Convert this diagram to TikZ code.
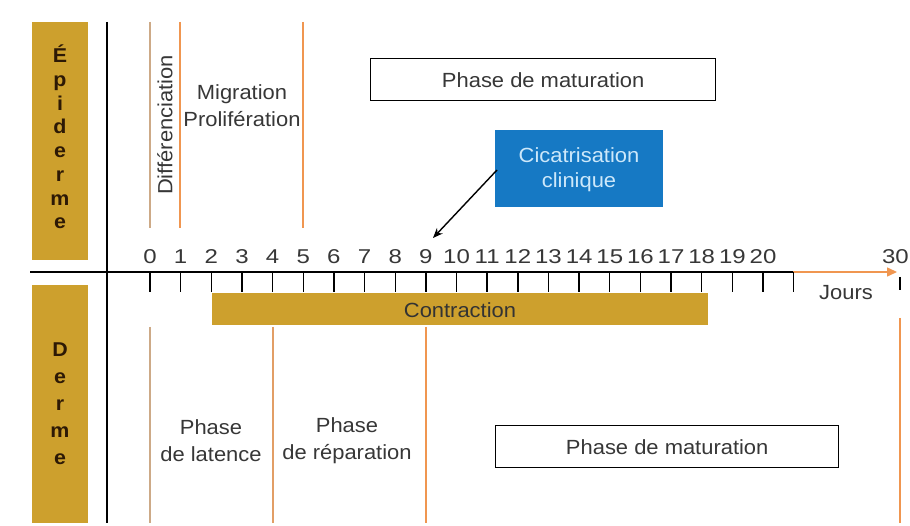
\documentclass[tikz,border=0pt]{standalone}
\usepackage{fontspec}
\setmainfont[FakeStretch=1.07]{Liberation Sans}
\newfontfamily\numfont[FakeStretch=1.2]{Liberation Sans}
\usetikzlibrary{arrows.meta}
\definecolor{gold}{RGB}{205,160,45}
\definecolor{orng}{RGB}{240,150,80}
\definecolor{tanc}{RGB}{205,170,135}
\definecolor{blu}{RGB}{22,121,196}
\definecolor{txt}{RGB}{55,55,55}
\definecolor{lettr}{RGB}{45,25,5}
\definecolor{cictxt}{RGB}{205,232,250}
\tikzset{
  lbl/.style={text=txt, font=\fontsize{20.5}{26}\selectfont, align=center, inner sep=0pt},
  numlbl/.style={text=txt, font=\numfont\fontsize{20}{22}\selectfont, inner sep=0pt},
  sidebox/.style={fill=gold, draw=none, minimum width=56pt, anchor=north west, inner sep=0pt},
  sideletters/.style={text=lettr, font=\bfseries\fontsize{20}{23.7}\selectfont, align=center, inner sep=0pt},
  phasebox/.style={draw=black, line width=1.4pt, fill=white, anchor=north west, inner sep=0pt, text=txt, font=\fontsize{20.5}{26}\selectfont},
  tickline/.style={black, line width=1.4pt},
  orline/.style={orng, line width=1.5pt},
  tanline/.style={tanc, line width=1.5pt}
}
\begin{document}
\begin{tikzpicture}[x=1pt,y=-1pt]
\useasboundingbox[fill=white] (0,0) rectangle (910,526);
% side boxes
\node[sidebox, minimum height=238pt] (epibox) at (32,22) {};
\node[sideletters] (epitxt) at (60,137) {É\\p\\i\\d\\e\\r\\m\\e};
\node[sidebox, minimum height=238pt] (derbox) at (32,285) {};
\node[sideletters, font=\bfseries\fontsize{20}{27}\selectfont] (dertxt) at (60,404) {D\\e\\r\\m\\e};
% vertical black line
\coordinate (vtop) at (107,22);
\coordinate (vbot) at (107,523);
\draw[black, line width=1.8pt] (vtop) -- (vbot);
% axis
\coordinate (axL) at (30,272);
\coordinate (axM) at (793,272);
\coordinate (axR) at (897,272);
\draw[black, line width=1.5pt] (axL) -- (axM);
\draw[orng, line width=1.5pt, -{Triangle[length=10pt,width=9pt]}] (axM) -- (axR);
\foreach \k in {0,...,21}{
  \draw[tickline] (150+30.65*\k,272) -- (150+30.65*\k,292);
}
\foreach \k in {0,...,20}{
  \node[numlbl] (n\k) at (150+30.65*\k,257) {\k};
}
\draw[tickline] (900,277) -- (900,290);
\node[numlbl, anchor=east] (n30) at (909,257) {30};
\node[lbl] (jours) at (846,293) {Jours};
% contraction
\node[fill=gold, minimum width=496pt, minimum height=32pt, anchor=north west, inner sep=0pt] (contr) at (212,293) {};
\node[lbl, text=black!80] (contrtxt) at (460,310) {Contraction};
% epiderme lines
\draw[tanline] (150,22) -- (150,228);
\draw[orline] (180,22) -- (180,228);
\draw[orline] (303,22) -- (303,228);
\node[lbl, rotate=90] (diff) at (165,125) {Différenciation};
\node[lbl, font=\fontsize{20.5}{27}\selectfont] (migr) at (242,106) {Migration\\Prolifération};
% top maturation box
\node[phasebox, minimum width=345pt, minimum height=42pt] (matTop) at (370,58) {Phase de maturation};
% cicatrisation
\node[fill=blu, minimum width=168pt, minimum height=77pt, anchor=north west, inner sep=0pt] (cic) at (495,130) {};
\node[lbl, text=cictxt, font=\fontsize{20.5}{25}\selectfont] (cictxt) at (579,170) {Cicatrisation\\clinique};
\coordinate (arrS) at (497,170);
\coordinate (arrE) at (433,238);
\draw[black, line width=1.4pt, -{Stealth[length=10pt,width=8pt]}] (arrS) -- (arrE);
% derme lines
\draw[tanline] (150,327) -- (150,523);
\draw[tanline, draw=orng!60!tanc] (273,327) -- (273,523);
\draw[orline] (426,327) -- (426,523);
\draw[orline] (900,318) -- (900,523);
\node[lbl, font=\fontsize{20.5}{27}\selectfont] (lat) at (211,441) {Phase\\de latence};
\node[lbl, font=\fontsize{20.5}{27}\selectfont] (rep) at (347,441) {Phase\\de réparation};
% bottom maturation box
\node[phasebox, minimum width=343pt, minimum height=42pt] (matBot) at (495,425) {Phase de maturation};
\end{tikzpicture}
\end{document}
